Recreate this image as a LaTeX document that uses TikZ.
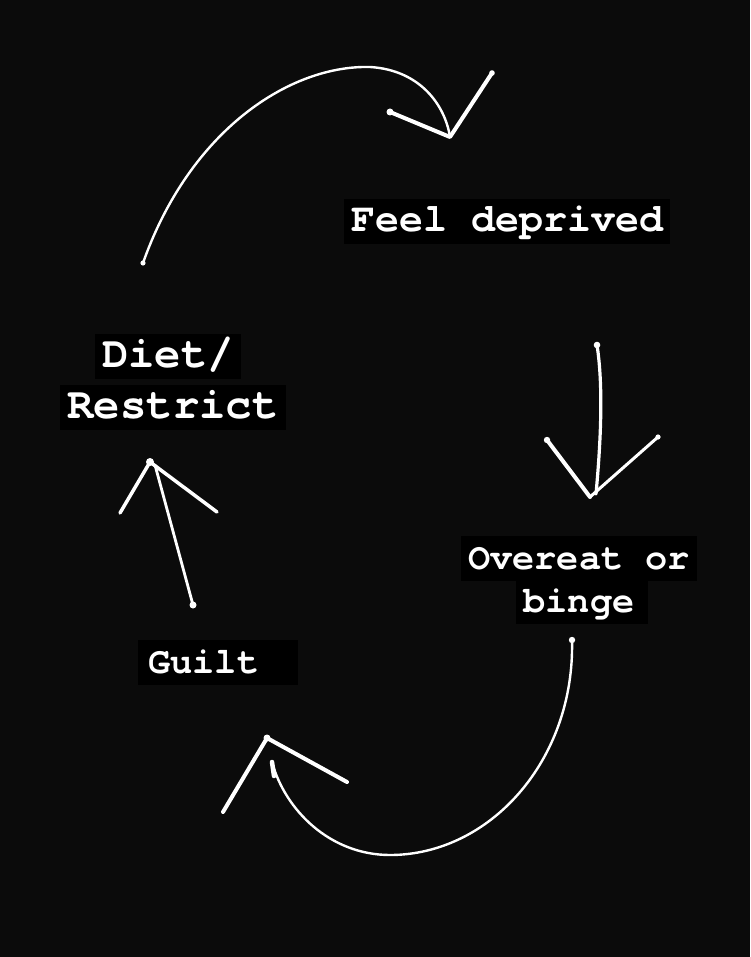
\documentclass[tikz,border=0pt]{standalone}
\usepackage{fontspec}
\newfontfamily\twfont{TeX Gyre Cursor}
\definecolor{bgc}{RGB}{11,11,11}
\definecolor{boxc}{RGB}{0,0,0}
\begin{document}
\begin{tikzpicture}[x=1pt,y=-1pt,
  lbl/.style={fill=boxc,text=white,inner xsep=7pt,inner ysep=0pt,anchor=base,
    text height=33pt,text depth=12pt},
  arc/.style={draw=white,line width=2.4pt,line cap=round},
  head/.style={draw=white,line width=4pt,line cap=round,line join=round},
  shaft/.style={draw=white,line width=3.2pt,line cap=round}]
\fill[bgc] (0,0) rectangle (750,957);
\useasboundingbox (0,0) rectangle (750,957);

% labels
\node[lbl,font=\twfont\bfseries\fontsize{40}{48}\selectfont] (feel) at (507,232) {Feel deprived};
\node[lbl,font=\twfont\bfseries\fontsize{44}{50}\selectfont] (diet) at (168,367) {Diet/};
\node[lbl,font=\twfont\bfseries\fontsize{44}{50}\selectfont] (restrict) at (173,418) {Restrict};
\node[lbl,font=\twfont\bfseries\fontsize{37}{44}\selectfont] (over) at (579,569) {Overeat or};
\node[lbl,font=\twfont\bfseries\fontsize{37}{44}\selectfont] (binge) at (582,612) {binge\,};
\node[lbl,font=\twfont\bfseries\fontsize{37}{44}\selectfont,inner xsep=10pt] (guilt) at (218,673) {Guilt\ \,};

% arrow 1: Diet -> Feel deprived
\coordinate (a1s) at (143,263);
\coordinate (a1m) at (370,67);
\coordinate (a1t) at (450,137);
\coordinate (a1l) at (390,112);
\coordinate (a1r) at (492,73);
\draw[arc] (a1s) .. controls (190,130) and (290,65) .. (a1m) .. controls (420,70) and (445,105) .. (a1t);
\fill[white] (a1s) circle (2.6pt);
\draw[head] (a1l) -- (a1t) -- (a1r);
\fill[white] (a1l) circle (3.5pt);
\fill[white] (a1r) circle (2.8pt);

% arrow 2: Feel deprived -> Overeat
\coordinate (a2s) at (597,345);
\coordinate (a2e) at (596,494);
\coordinate (a2t) at (590,497);
\coordinate (a2l) at (547,440);
\coordinate (a2r) at (658,437);
\draw[shaft] (a2s) .. controls (604,390) and (600,450) .. (a2e);
\fill[white] (a2s) circle (3.3pt);
\draw[head] (a2l) -- (a2t);
\fill[white] (a2l) circle (3.2pt);
\draw[draw=white,line width=3pt,line cap=round] (a2t) -- (a2r);
\fill[white] (a2r) circle (2.6pt);

% arrow 3: Overeat -> Guilt
\coordinate (a3s) at (572,640);
\coordinate (a3m) at (390,855);
\coordinate (a3e) at (272,762);
\coordinate (a3t) at (267,738);
\coordinate (a3l) at (223,812);
\coordinate (a3r) at (347,782);
\draw[arc] (a3s) .. controls (575,760) and (490,855) .. (a3m) .. controls (330,855) and (285,810) .. (a3e);
\fill[white] (a3s) circle (3.2pt);
\draw[draw=white,line width=4.5pt,line cap=round] (a3e) -- +(2,14);
\draw[head] (a3l) -- (a3t) -- (a3r);
\fill[white] (a3t) circle (3.5pt);

% arrow 4: Guilt -> Diet
\coordinate (a4s) at (193,605);
\coordinate (a4e) at (155,465);
\coordinate (a4t) at (150,462);
\coordinate (a4l) at (120,513);
\coordinate (a4r) at (217,512);
\draw[shaft,line width=2.8pt] (a4s) -- (a4e);
\fill[white] (a4s) circle (3.5pt);
\fill[white] (a4t) circle (4pt);
\draw[head,line width=3.5pt] (a4l) -- (a4t) -- (a4r);
\end{tikzpicture}
\end{document}
